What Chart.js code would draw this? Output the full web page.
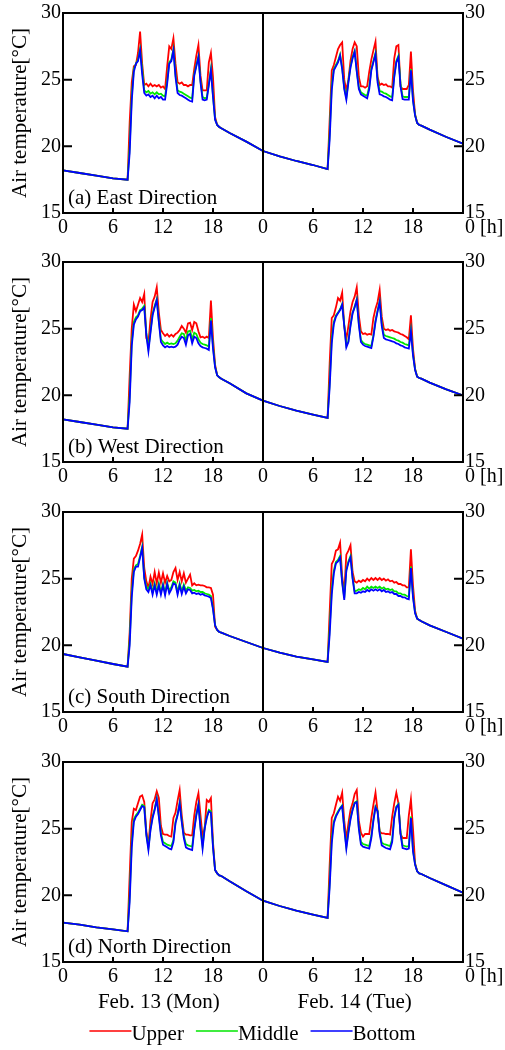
<!DOCTYPE html>
<html>
<head>
<meta charset="utf-8">
<title>Air temperature by direction</title>
<script src="https://cdn.jsdelivr.net/npm/chart.js@4.4.1/dist/chart.umd.min.js"></script>
<style>
  html, body { margin: 0; padding: 0; background: #fff; }
  body { width: 505px; height: 1050px; position: relative; overflow: hidden; }
  .panel { position: absolute; left: 0; width: 505px; }
</style>
</head>
<body>
<div class="panel" style="top:0;height:250px"><canvas id="east"></canvas></div>
<div class="panel" style="top:249px;height:250px"><canvas id="west"></canvas></div>
<div class="panel" style="top:499px;height:250px"><canvas id="south"></canvas></div>
<div class="panel" style="top:749px;height:301px"><canvas id="north"></canvas></div>
<script>
// elapsed time [h] over the two days
const hours = [
  0, 2, 4, 6,
  7.75, 8, 8.25, 8.5, 8.75, 9, 9.25, 9.5, 9.75, 10,
  10.25, 10.5, 10.75, 11, 11.25, 11.5, 11.75, 12, 12.25, 12.5,
  12.75, 13, 13.25, 13.5, 13.75, 14, 14.25, 14.5, 14.75, 15,
  15.25, 15.5, 15.75, 16, 16.25, 16.5, 16.75, 17, 17.25, 17.5,
  17.75, 18, 18.25, 18.5, 18.75, 19,
  20, 22,
  24, 26, 28, 30,
  31.75, 32, 32.25, 32.5, 32.75, 33, 33.25, 33.5, 33.75, 34,
  34.25, 34.5, 34.75, 35, 35.25, 35.5, 35.75, 36, 36.25, 36.5,
  36.75, 37, 37.25, 37.5, 37.75, 38, 38.25, 38.5, 38.75, 39,
  39.25, 39.5, 39.75, 40, 40.25, 40.5, 40.75, 41, 41.25, 41.5,
  41.75, 42, 42.25, 42.5, 42.75, 43,
  44, 46,
  48
];

const xTicks = [0, 6, 12, 18, 24, 30, 36, 42, 48];
const yTicks = [15, 20, 25, 30];
const seriesNames = ['Upper', 'Middle', 'Bottom'];
const seriesColors = ['#ff0000', '#00e600', '#0000ff'];
const captions = ['(a) East Direction', '(b) West Direction', '(c) South Direction', '(d) North Direction'];
const dayLabels = ['Feb. 13 (Mon)', 'Feb. 14 (Tue)'];

// (a) East
const eastUpper = [
  18.2, 18.0, 17.8, 17.6,
  17.5, 21.8, 24.8, 26.0, 26.1, 27.0, 28.6, 26.2, 24.6, 24.7,
  24.5, 24.7, 24.5, 24.6, 24.5, 24.6, 24.4, 24.5, 24.3, 26.0,
  27.5, 27.3, 28.1, 26.2, 24.8, 24.7, 24.8, 24.6, 24.6, 24.5,
  24.6, 24.6, 25.8, 26.8, 27.6, 25.3, 24.2, 24.2, 24.2, 26.3,
  27.0, 25.2, 22.2, 21.6, 21.45, 21.35,
  21.0, 20.35,
  19.65, 19.25, 18.9, 18.6,
  18.3, 22.0, 25.7, 26.1, 26.7, 27.3, 27.6, 27.8, 25.0, 24.2,
  25.0, 26.4, 27.3, 27.8, 27.5, 25.2, 24.5, 24.5, 24.4, 24.5,
  25.6, 26.5, 27.2, 27.85, 25.2, 24.6, 24.7, 24.6, 24.65, 24.5,
  24.5, 24.4, 26.6, 27.5, 27.6, 24.5, 24.3, 24.3, 24.3, 24.6,
  27.1, 24.2, 22.4, 21.75, 21.6, 21.55,
  21.25, 20.7,
  20.2
];
const eastMiddle = [
  18.2, 18.0, 17.8, 17.6,
  17.5, 20.0, 23.8, 25.8, 26.2, 26.5, 27.3, 25.8, 24.2, 24.05,
  24.15, 23.95, 24.05, 23.9, 24.05, 23.9, 23.95, 23.8, 23.75, 24.9,
  26.3, 26.5, 27.3, 25.4, 24.2, 24.1, 24.05, 23.95, 23.85, 23.75,
  23.65, 23.6, 25.4, 26.1, 26.75, 24.9, 23.7, 23.6, 23.65, 24.7,
  25.8, 23.8, 22.05, 21.6, 21.45, 21.35,
  21.0, 20.35,
  19.65, 19.25, 18.9, 18.6,
  18.3, 21.0, 24.6, 25.8, 26.1, 26.4, 26.9, 25.9, 24.4, 23.65,
  24.9, 26.0, 26.7, 27.15, 25.7, 24.45, 24.05, 23.95, 23.85, 23.8,
  24.5, 25.8, 26.4, 27.0, 25.0, 24.15, 24.1, 24.0, 23.95, 23.85,
  23.75, 23.7, 25.3, 26.4, 26.8, 24.7, 23.75, 23.7, 23.7, 23.7,
  25.8, 23.5, 22.35, 21.75, 21.6, 21.55,
  21.25, 20.7,
  20.2
];
const eastBottom = [
  18.2, 18.0, 17.8, 17.6,
  17.5, 19.5, 23.4, 25.6, 26.2, 26.4, 27.2, 25.4, 24.0, 23.8,
  23.9, 23.7, 23.8, 23.6, 23.8, 23.6, 23.7, 23.5, 23.5, 24.7,
  26.2, 26.4, 27.2, 25.2, 24.0, 23.85, 23.8, 23.7, 23.6, 23.5,
  23.4, 23.35, 25.3, 26.0, 26.7, 24.8, 23.5, 23.45, 23.5, 24.6,
  25.7, 23.7, 22.0, 21.6, 21.45, 21.35,
  21.0, 20.35,
  19.65, 19.25, 18.9, 18.6,
  18.3, 20.5, 24.2, 25.7, 26.0, 26.3, 26.8, 25.8, 24.3, 23.5,
  24.8, 25.9, 26.6, 27.1, 25.6, 24.3, 23.9, 23.8, 23.7, 23.6,
  24.3, 25.7, 26.3, 26.9, 24.8, 23.9, 23.85, 23.75, 23.7, 23.6,
  23.5, 23.45, 25.2, 26.3, 26.7, 24.5, 23.55, 23.5, 23.5, 23.5,
  25.7, 23.4, 22.3, 21.75, 21.6, 21.55,
  21.25, 20.7,
  20.2
];

// (b) West
const westUpper = [
  18.2, 18.0, 17.8, 17.6,
  17.5, 21.5, 25.0, 26.8, 26.3, 26.8, 27.3, 27.0, 27.6, 24.3,
  23.95, 25.7, 27.0, 27.4, 28.1, 26.2, 24.9, 24.65, 24.45, 24.6,
  24.4, 24.55, 24.4, 24.6, 24.7, 24.9, 25.2, 25.0, 24.7, 25.4,
  25.45, 24.9, 25.5, 25.4, 24.8, 24.35, 24.4, 24.3, 24.4, 24.3,
  27.1, 24.3, 22.3, 21.5, 21.35, 21.25,
  20.9, 20.15,
  19.6, 19.2, 18.85, 18.55,
  18.3, 22.4, 25.8, 26.0, 26.6, 27.3, 27.1, 27.7, 25.2, 24.2,
  25.2, 26.3, 27.0, 27.4, 28.1, 26.0, 24.8, 24.6, 24.65, 24.55,
  24.6, 24.55, 25.8, 26.5, 27.0, 27.9, 25.9, 25.0, 24.9, 24.95,
  24.85, 24.9, 24.8, 24.75, 24.7, 24.6, 24.55, 24.45, 24.35, 24.2,
  26.0, 23.5, 22.0, 21.4, 21.3, 21.25,
  20.95, 20.45,
  20.0
];
const westMiddle = [
  18.2, 18.0, 17.8, 17.6,
  17.5, 20.0, 24.0, 25.5, 25.85, 26.0, 26.4, 26.5, 26.7, 24.7,
  23.5, 24.85, 26.1, 26.7, 27.2, 25.6, 24.2, 24.0, 23.85, 23.95,
  23.85, 23.9, 23.85, 23.9, 24.1, 24.4, 24.65, 24.6, 24.1, 24.8,
  24.85, 24.2, 24.7, 24.6, 24.2, 23.95, 23.85, 23.8, 23.75, 23.65,
  25.8, 23.7, 22.15, 21.5, 21.35, 21.25,
  20.9, 20.15,
  19.6, 19.2, 18.85, 18.55,
  18.3, 21.0, 24.3, 25.5, 26.0, 26.2, 26.45, 26.85, 25.3, 23.75,
  24.05, 25.3, 26.2, 26.65, 27.2, 25.4, 24.15, 23.95, 23.85, 23.8,
  23.75, 23.7, 24.5, 25.6, 26.35, 27.05, 25.4, 24.55, 24.45, 24.4,
  24.35, 24.3, 24.25, 24.15, 24.1, 24.0, 23.95, 23.85, 23.8, 23.75,
  24.9, 23.1, 21.95, 21.4, 21.3, 21.25,
  20.95, 20.45,
  20.0
];
const westBottom = [
  18.2, 18.0, 17.8, 17.6,
  17.5, 19.5, 23.7, 25.3, 25.7, 25.9, 26.3, 26.4, 26.6, 24.5,
  23.3, 24.7, 26.0, 26.6, 27.15, 25.5, 24.0, 23.75, 23.6, 23.7,
  23.6, 23.65, 23.6, 23.65, 23.8, 24.15, 24.4, 24.3, 23.8, 24.5,
  24.6, 23.9, 24.4, 24.3, 23.9, 23.7, 23.6, 23.55, 23.5, 23.4,
  25.6, 23.5, 22.1, 21.5, 21.35, 21.25,
  20.9, 20.15,
  19.6, 19.2, 18.85, 18.55,
  18.3, 20.6, 23.9, 25.35, 25.9, 26.15, 26.4, 26.8, 25.2, 23.6,
  24.0, 25.2, 26.15, 26.6, 27.15, 25.3, 24.0, 23.8, 23.7, 23.65,
  23.6, 23.55, 24.4, 25.5, 26.3, 27.0, 25.2, 24.3, 24.2, 24.15,
  24.1, 24.05, 24.0, 23.9, 23.85, 23.75, 23.7, 23.6, 23.55, 23.5,
  24.8, 23.0, 21.9, 21.4, 21.3, 21.25,
  20.95, 20.45,
  20.0
];

// (c) South
const southUpper = [
  19.35, 19.1, 18.85, 18.6,
  18.4, 21.0, 25.0, 26.5, 26.7, 27.1, 27.6, 28.3, 25.8, 24.8,
  24.3, 25.15, 24.6, 25.5, 24.65, 25.45, 24.7, 25.4, 24.7, 25.2,
  24.8, 24.9, 25.5, 25.8, 24.9, 25.5, 24.8, 25.4, 24.7, 25.0,
  25.3, 24.5, 24.65, 24.5, 24.55, 24.5, 24.5, 24.45, 24.35, 24.35,
  24.3, 23.8, 21.4, 21.15, 21.0, 20.95,
  20.7, 20.25,
  19.8, 19.45, 19.15, 18.95,
  18.75, 22.5, 26.1, 26.4, 27.1, 27.2, 27.7, 25.2, 24.0, 26.8,
  27.1, 27.5, 25.5, 24.8, 24.7, 24.85, 24.75, 24.9, 24.8, 25.0,
  24.85, 25.05, 24.9, 25.05, 24.9, 25.05, 24.9, 25.0, 24.85, 24.95,
  24.8, 24.85, 24.7, 24.75, 24.6, 24.6, 24.5, 24.5, 24.35, 24.35,
  27.2, 24.5, 22.6, 22.0, 21.9, 21.8,
  21.5, 21.0,
  20.5
];
const southMiddle = [
  19.35, 19.1, 18.85, 18.6,
  18.4, 20.4, 24.0, 25.7, 26.0, 26.1, 26.7, 27.4, 25.1, 24.4,
  24.2, 24.65, 24.0, 24.65, 24.0, 24.65, 24.0, 24.6, 23.95, 24.7,
  24.1, 24.35, 24.8, 24.7, 24.0, 24.65, 24.05, 24.55, 24.1, 24.35,
  24.3, 24.1, 24.15, 24.05, 24.1, 24.0, 24.0, 23.9, 23.85, 23.8,
  23.7, 22.8, 21.5, 21.15, 21.0, 20.95,
  20.7, 20.25,
  19.8, 19.45, 19.15, 18.95,
  18.75, 21.3, 24.2, 25.6, 26.25, 26.4, 26.7, 24.8, 23.55, 25.7,
  26.3, 26.7, 25.1, 24.05, 24.1, 24.2, 24.15, 24.3, 24.2, 24.4,
  24.25, 24.4, 24.3, 24.4, 24.3, 24.4, 24.25, 24.35, 24.2, 24.25,
  24.15, 24.2, 24.05, 24.05, 23.9, 23.9, 23.8, 23.8, 23.7, 23.65,
  25.9, 23.7, 22.45, 22.0, 21.9, 21.8,
  21.5, 21.0,
  20.5
];
const southBottom = [
  19.35, 19.1, 18.85, 18.6,
  18.4, 20.0, 23.6, 25.5, 25.9, 25.9, 26.6, 27.3, 25.0, 24.2,
  24.0, 24.5, 23.8, 24.5, 23.8, 24.5, 23.8, 24.5, 23.75, 24.6,
  23.9, 24.2, 24.65, 24.55, 23.8, 24.5, 23.85, 24.4, 23.9, 24.2,
  24.15, 23.9, 23.95, 23.85, 23.9, 23.8, 23.85, 23.75, 23.7, 23.65,
  23.55, 22.7, 21.5, 21.15, 21.0, 20.95,
  20.7, 20.25,
  19.8, 19.45, 19.15, 18.95,
  18.75, 20.8, 23.8, 25.4, 26.15, 26.3, 26.6, 24.7, 23.4, 25.6,
  26.2, 26.6, 25.0, 23.9, 23.9, 24.0, 23.95, 24.05, 24.0, 24.15,
  24.05, 24.2, 24.1, 24.2, 24.1, 24.2, 24.05, 24.15, 24.0, 24.05,
  23.95, 24.0, 23.85, 23.85, 23.7, 23.7, 23.6, 23.6, 23.5, 23.45,
  25.8, 23.6, 22.4, 22.0, 21.9, 21.8,
  21.5, 21.0,
  20.5
];

// (d) North
const northUpper = [
  17.95, 17.8, 17.6, 17.45,
  17.3, 21.5, 25.5, 26.5, 26.4, 26.9, 27.4, 27.5, 27.0, 24.8,
  23.8, 25.6, 26.9, 27.2, 27.8, 27.3, 25.2, 24.6, 24.55, 24.55,
  24.45, 24.4, 25.8, 26.2, 27.1, 27.9, 26.0, 24.7, 24.55, 24.55,
  24.5, 24.5, 26.0, 27.0, 27.65, 26.0, 24.4, 25.0, 27.15, 27.0,
  27.3, 24.0, 21.9, 21.65, 21.5, 21.45,
  21.05, 20.3,
  19.6, 19.2, 18.85, 18.55,
  18.3, 22.3, 25.8, 26.15, 26.8, 27.4, 27.1, 27.7, 25.6, 24.2,
  25.4, 26.4, 26.9, 27.6, 27.9, 25.6, 24.7, 24.4, 24.6, 24.6,
  24.6, 25.8, 26.8, 27.7, 26.3, 24.8, 24.65, 24.65, 24.6, 24.6,
  24.55, 25.9, 26.9, 27.7, 26.9, 24.6, 24.3, 24.3, 24.3, 26.0,
  27.2, 25.0, 22.4, 21.8, 21.65, 21.6,
  21.3, 20.75,
  20.2
];
const northMiddle = [
  17.95, 17.8, 17.6, 17.45,
  17.3, 20.0, 24.0, 25.7, 26.0, 26.2, 26.5, 26.8, 26.7, 24.6,
  23.55, 25.0, 25.9, 26.5, 27.25, 26.0, 24.7, 24.0, 23.9, 23.8,
  23.75, 23.7, 24.15, 25.5, 26.1, 26.95, 25.6, 24.45, 23.85, 23.75,
  23.7, 23.65, 25.0, 26.1, 26.85, 25.1, 23.7, 25.1, 25.9, 26.4,
  26.3, 23.7, 21.9, 21.65, 21.5, 21.45,
  21.05, 20.3,
  19.6, 19.2, 18.85, 18.55,
  18.3, 21.0, 24.3, 25.55, 26.0, 26.3, 26.55, 26.75, 25.1, 23.65,
  24.8, 25.8, 26.45, 26.95, 27.05, 25.1, 24.0, 23.85, 23.8, 23.75,
  23.7, 24.45, 25.7, 26.65, 26.35, 24.75, 23.95, 23.85, 23.8, 23.75,
  23.7, 24.2, 25.9, 26.65, 26.85, 24.75, 23.75, 23.7, 23.65, 23.7,
  25.9, 23.4, 22.35, 21.8, 21.65, 21.6,
  21.3, 20.75,
  20.2
];
const northBottom = [
  17.95, 17.8, 17.6, 17.45,
  17.3, 19.5, 23.6, 25.5, 25.9, 26.1, 26.4, 26.7, 26.6, 24.5,
  23.4, 24.9, 25.8, 26.4, 27.2, 25.9, 24.5, 23.8, 23.7, 23.6,
  23.5, 23.45, 24.0, 25.4, 26.0, 26.9, 25.5, 24.3, 23.6, 23.5,
  23.45, 23.4, 24.9, 26.0, 26.8, 25.0, 23.5, 25.0, 25.8, 26.3,
  26.2, 23.6, 21.9, 21.65, 21.5, 21.45,
  21.05, 20.3,
  19.6, 19.2, 18.85, 18.55,
  18.3, 20.6, 23.9, 25.4, 25.9, 26.2, 26.5, 26.7, 25.0, 23.5,
  24.7, 25.7, 26.4, 26.9, 27.0, 25.0, 23.8, 23.65, 23.6, 23.55,
  23.5, 24.3, 25.6, 26.6, 26.3, 24.6, 23.75, 23.65, 23.55, 23.5,
  23.45, 24.0, 25.8, 26.6, 26.8, 24.6, 23.55, 23.5, 23.45, 23.5,
  25.8, 23.3, 22.3, 21.8, 21.65, 21.6,
  21.3, 20.75,
  20.2
];

const FONT = '"Liberation Serif", "Times New Roman", serif';
Chart.defaults.font.family = FONT;
Chart.defaults.font.size = 20;
Chart.defaults.color = '#000';

// fixed axis sizes so the four plot frames line up exactly
function fixAxis(size, horizontal) {
    return function (scale) {
        if (horizontal) scale.height = size; else scale.width = size;
        scale.paddingTop = 0;
        scale.paddingBottom = 0;
        scale.paddingLeft = 0;
        scale.paddingRight = 0;
    };
}

const X_PAD = 3;

// frame, inner ticks, day divider, captions, date labels and legend
const panelPlugin = {
    id: 'panel',
    afterDatasetsDraw(chart, args, opts) {
        const { ctx, chartArea: a, scales: { x, y } } = chart;
        ctx.save();
        ctx.strokeStyle = '#000';
        ctx.lineWidth = 2;
        ctx.beginPath();
        xTicks.forEach(h => {
            if (h <= 0 || h >= 48 || h === 24) return;
            const px = x.getPixelForValue(h);
            ctx.moveTo(px, a.bottom);
            ctx.lineTo(px, a.bottom - 5);
        });
        yTicks.forEach(v => {
            if (v <= 15 || v >= 30) return;
            const py = y.getPixelForValue(v);
            ctx.moveTo(a.left, py);
            ctx.lineTo(a.left + 9, py);
            ctx.moveTo(a.right, py);
            ctx.lineTo(a.right - 9, py);
        });
        const mid = x.getPixelForValue(24);
        ctx.moveTo(mid, a.top);
        ctx.lineTo(mid, a.bottom);
        ctx.stroke();
        ctx.strokeRect(a.left, a.top, a.right - a.left, a.bottom - a.top);

        ctx.fillStyle = '#000';
        ctx.font = '21px ' + FONT;
        ctx.textAlign = 'left';
        ctx.textBaseline = 'alphabetic';
        ctx.fillText(opts.caption, a.left + 5, a.bottom - 9);

        // last tick with unit
        ctx.font = '20px ' + FONT;
        ctx.textBaseline = 'middle';
        ctx.fillText('0 [h]', a.right + 2, a.bottom + X_PAD + 12);

        if (opts.footer) {
            ctx.font = '21px ' + FONT;
            ctx.textAlign = 'center';
            ctx.textBaseline = 'alphabetic';
            ctx.fillText(dayLabels[0], x.getPixelForValue(11.5), a.bottom + 46);
            ctx.fillText(dayLabels[1], x.getPixelForValue(35), a.bottom + 46);

            // legend: short line then name, centred on the page
            const lineLen = 42, gap = 12;
            const widths = seriesNames.map(n => ctx.measureText(n).width);
            const total = widths.reduce((s, w) => s + lineLen + w, 0) + gap * (seriesNames.length - 1);
            let lx = (chart.width - total) / 2;
            const ly = a.bottom + 69;
            ctx.textAlign = 'left';
            ctx.lineWidth = 1.6;
            seriesNames.forEach((name, i) => {
                ctx.strokeStyle = seriesColors[i];
                ctx.beginPath();
                ctx.moveTo(lx, ly);
                ctx.lineTo(lx + lineLen, ly);
                ctx.stroke();
                ctx.fillText(name, lx + lineLen, a.bottom + 78);
                lx += lineLen + widths[i] + gap;
            });
        }
        ctx.restore();
    }
};

function makeChart(canvasId, series, caption, xHeight, footer) {
    const ctx = document.getElementById(canvasId);
    return new Chart(ctx, {
        type: 'line',
        data: {
            datasets: series.map((vals, i) => ({
                label: seriesNames[i],
                data: hours.map((h, k) => ({ x: h, y: vals[k] })),
                borderColor: seriesColors[i],
                borderWidth: 1.8,
                pointRadius: 0,
                tension: 0,
                fill: false,
                order: 3 - i   // Bottom drawn last, on top
            }))
        },
        options: {
            responsive: true,
            maintainAspectRatio: false,
            animation: false,
            layout: { padding: { top: 13, left: 0, right: 0, bottom: 0 } },
            plugins: {
                legend: { display: false },
                tooltip: { enabled: false },
                panel: { caption: caption, footer: footer }
            },
            scales: {
                x: {
                    type: 'linear',
                    position: 'bottom',
                    min: 0,
                    max: 48,
                    afterBuildTicks: s => { s.ticks = xTicks.map(v => ({ value: v })); },
                    afterFit: fixAxis(xHeight, true),
                    grid: { display: false, drawTicks: false },
                    border: { display: false },
                    ticks: {
                        autoSkip: false,
                        maxRotation: 0,
                        padding: X_PAD,
                        font: { size: 20, lineHeight: 1.2 },
                        callback: v => (v === 48 ? '' : String(v % 24))
                    }
                },
                y: {
                    position: 'left',
                    min: 15,
                    max: 30,
                    afterBuildTicks: s => { s.ticks = yTicks.map(v => ({ value: v })); },
                    afterFit: fixAxis(63, false),
                    grid: { display: false, drawTicks: false },
                    border: { display: false },
                    ticks: { padding: 2, font: { size: 20 } },
                    title: {
                        display: true,
                        text: 'Air temperature[°C]',
                        font: { size: 21, lineHeight: 1.2 },
                        padding: { top: 8, bottom: 0 }
                    }
                },
                y2: {
                    position: 'right',
                    min: 15,
                    max: 30,
                    afterBuildTicks: s => { s.ticks = yTicks.map(v => ({ value: v })); },
                    afterFit: fixAxis(42, false),
                    grid: { display: false, drawTicks: false },
                    border: { display: false },
                    ticks: { padding: 2, font: { size: 20 } }
                }
            }
        },
        plugins: [panelPlugin]
    });
}

makeChart('east', [eastUpper, eastMiddle, eastBottom], captions[0], 37, false);
makeChart('west', [westUpper, westMiddle, westBottom], captions[1], 37, false);
makeChart('south', [southUpper, southMiddle, southBottom], captions[2], 37, false);
makeChart('north', [northUpper, northMiddle, northBottom], captions[3], 88, true);
</script>
</body>
</html>
